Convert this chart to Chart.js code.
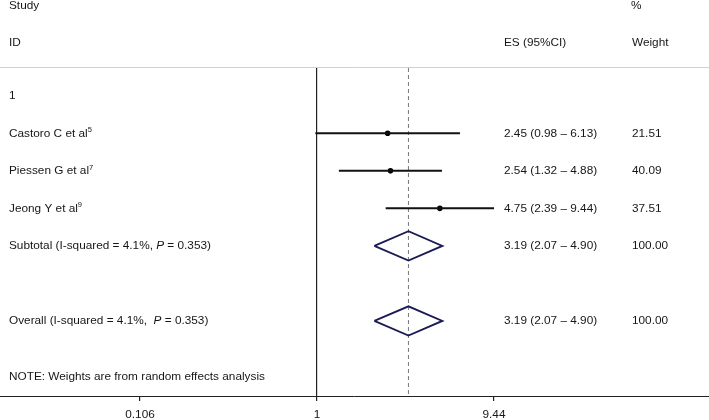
<!DOCTYPE html>
<html>
<head>
<meta charset="utf-8">
<script src="https://cdn.jsdelivr.net/npm/chart.js@4"></script>
<style>
  html, body { margin: 0; padding: 0; background: #fff; }
  #wrap { width: 709px; height: 420px; }
</style>
</head>
<body>
<div id="wrap"><canvas id="chart" width="709" height="420"></canvas></div>
<script>
//? data
const studyNames = ['Castoro C et al', 'Piessen G et al', 'Jeong Y et al'];
const studyRefs = ['5', '7', '9'];
const studyES = [2.45, 2.54, 4.75];
const studyLow = [0.98, 1.32, 2.39];
const studyHigh = [6.13, 4.88, 9.44];
const studyWeight = [21.51, 40.09, 37.51];

const pooledNames = ['Subtotal', 'Overall'];
const pooledES = [3.19, 3.19];
const pooledLow = [2.07, 2.07];
const pooledHigh = [4.90, 4.90];
const pooledWeight = [100.00, 100.00];
const iSquared = 4.1;
const pValue = 0.353;

const xTicks = [0.106, 1, 9.44];
const xTickLabels = ['0.106', '1', '9.44'];

//? row slots on the y scale
const headerRows = [-1.4, -0.4];
const groupRow = 1;
const studyRows = [2, 3, 4];
const pooledRows = [5, 7];
const noteRow = 8.5;
const Y_MIN = 0.26;
const Y_MAX = 9.0;

const DIAMOND_H = 0.39;
const FONT = '"Liberation Sans", Arial, sans-serif';
const FONT_SIZE = 11.8;
const TEXT_COLOR = '#161616';

/* -------------------------------------------------------------------------- */

const datasets = [];

// confidence intervals
studyNames.forEach((name, i) => {
    datasets.push({
        data: [{ x: studyLow[i], y: studyRows[i] }, { x: studyHigh[i], y: studyRows[i] }],
        showLine: true,
        borderColor: '#111',
        borderWidth: 2,
        pointRadius: 0
    });
});

// point estimates
datasets.push({
    data: studyES.map((v, i) => ({ x: v, y: studyRows[i] })),
    showLine: false,
    pointRadius: 2.8,
    pointBackgroundColor: '#000',
    pointBorderColor: '#000',
    pointBorderWidth: 0
});

// pooled diamonds
pooledNames.forEach((name, i) => {
    const r = pooledRows[i];
    datasets.push({
        data: [
            { x: pooledLow[i], y: r },
            { x: pooledES[i], y: r - DIAMOND_H },
            { x: pooledHigh[i], y: r },
            { x: pooledES[i], y: r + DIAMOND_H },
            { x: pooledLow[i], y: r }
        ],
        showLine: true,
        borderColor: '#1b1b55',
        borderWidth: 1.9,
        borderJoinStyle: 'miter',
        pointRadius: 0,
        tension: 0
    });
});

// overall effect dashed line
datasets.push({
    data: [{ x: pooledES[1], y: Y_MIN }, { x: pooledES[1], y: Y_MAX }],
    showLine: true,
    borderColor: '#777',
    borderWidth: 1,
    borderDash: [4, 3],
    pointRadius: 0
});

function fmt(v) { return v.toFixed(2); }

function drawParts(ctx, x, y, parts) {
    parts.forEach(p => {
        ctx.font = (p.italic ? 'italic ' : '') + p.size + 'px ' + FONT;
        ctx.fillText(p.text, x, y + (p.dy || 0));
        x += ctx.measureText(p.text).width;
    });
}

const textPlugin = {
    id: 'forestText',
    afterDraw: (chart) => {
        const { ctx, chartArea } = chart;
        const yScale = chart.scales.y;
        const W = chart.width;
        const colLeft = 9, colES = 504, colW = 632;
        const fs = FONT_SIZE;
        ctx.save();

        // header separator
        ctx.strokeStyle = '#d0d0d0';
        ctx.lineWidth = 1;
        ctx.beginPath();
        ctx.moveTo(0, chartArea.top - 0.5);
        ctx.lineTo(W, chartArea.top - 0.5);
        ctx.stroke();

        // axis line across full width
        ctx.strokeStyle = '#222';
        ctx.beginPath();
        ctx.moveTo(0, chartArea.bottom + 0.5);
        ctx.lineTo(W, chartArea.bottom + 0.5);
        ctx.stroke();

        ctx.fillStyle = TEXT_COLOR;
        ctx.textBaseline = 'middle';
        ctx.textAlign = 'left';
        ctx.font = fs + 'px ' + FONT;

        const yh0 = yScale.getPixelForValue(headerRows[0]);
        const yh1 = yScale.getPixelForValue(headerRows[1]);
        ctx.fillText('Study', colLeft, yh0);
        ctx.fillText('ID', colLeft, yh1);
        ctx.fillText('%', colW - 1, yh0);
        ctx.fillText('ES (95%CI)', colES, yh1);
        ctx.fillText('Weight', colW, yh1);

        ctx.fillText('1', colLeft, yScale.getPixelForValue(groupRow));

        studyNames.forEach((name, i) => {
            const y = yScale.getPixelForValue(studyRows[i]);
            drawParts(ctx, colLeft, y, [
                { text: name, size: fs },
                { text: studyRefs[i], size: 7.5, dy: -3 }
            ]);
            ctx.font = fs + 'px ' + FONT;
            ctx.fillText(fmt(studyES[i]) + ' (' + fmt(studyLow[i]) + ' \u2013 ' + fmt(studyHigh[i]) + ')', colES, y);
            ctx.fillText(fmt(studyWeight[i]), colW, y);
        });

        pooledNames.forEach((name, i) => {
            const y = yScale.getPixelForValue(pooledRows[i]);
            const sep = i === 0 ? ', ' : ',  ';
            drawParts(ctx, colLeft, y, [
                { text: name + ' (I-squared = ' + iSquared.toFixed(1) + '%' + sep, size: fs },
                { text: 'P', size: fs, italic: true },
                { text: ' = ' + pValue.toFixed(3) + ')', size: fs }
            ]);
            ctx.font = fs + 'px ' + FONT;
            ctx.fillText(fmt(pooledES[i]) + ' (' + fmt(pooledLow[i]) + ' \u2013 ' + fmt(pooledHigh[i]) + ')', colES, y);
            ctx.fillText(fmt(pooledWeight[i]), colW, y);
        });

        ctx.fillText('NOTE: Weights are from random effects analysis', colLeft, yScale.getPixelForValue(noteRow));
        ctx.restore();
    }
};

const chart = new Chart('chart', {
    type: 'scatter',
    data: { datasets: datasets },
    options: {
        responsive: false,
        animation: false,
        devicePixelRatio: 1,
        layout: { padding: { top: 68, left: 140, right: 215, bottom: 0 } },
        plugins: {
            legend: { display: false },
            tooltip: { enabled: false }
        },
        scales: {
            x: {
                type: 'logarithmic',
                min: xTicks[0],
                max: xTicks[xTicks.length - 1],
                afterBuildTicks: (axis) => {
                    axis.ticks = xTicks.map(v => ({ value: v }));
                },
                afterFit: (axis) => { axis.height = 24; },
                border: { display: false },
                grid: {
                    color: (c) => (c.tick && c.tick.value === 1) ? '#222' : 'rgba(0,0,0,0)',
                    lineWidth: 1.2,
                    tickColor: '#222',
                    tickLength: 5,
                    drawTicks: true
                },
                ticks: {
                    autoSkip: false,
                    maxRotation: 0,
                    padding: 7,
                    color: TEXT_COLOR,
                    font: { family: FONT, size: FONT_SIZE },
                    callback: (value, index) => xTickLabels[index]
                }
            },
            y: {
                type: 'linear',
                display: false,
                reverse: true,
                min: Y_MIN,
                max: Y_MAX
            }
        }
    },
    plugins: [textPlugin]
});
</script>
</body>
</html>
